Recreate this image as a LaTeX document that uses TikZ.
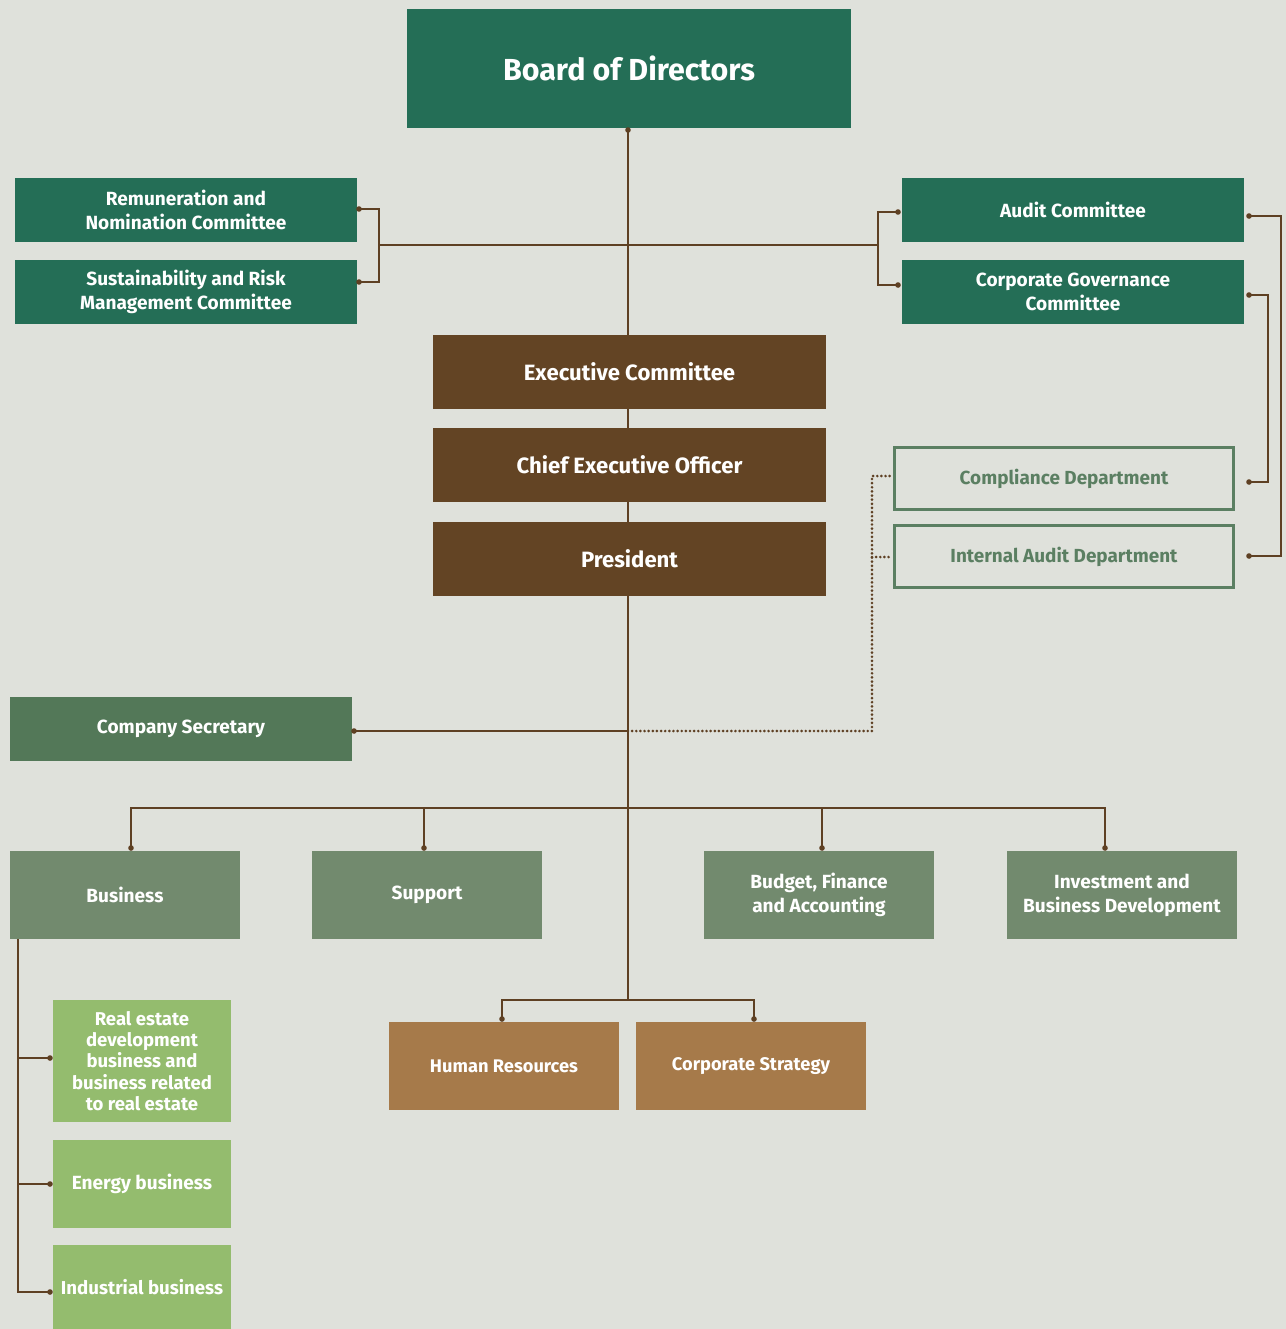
\documentclass[tikz,border=0pt]{standalone}
\usepackage{fontspec}
\setmainfont{Fira Sans}
\usetikzlibrary{backgrounds}
\definecolor{bg}{HTML}{DFE1DB}
\definecolor{dkgreen}{HTML}{246E56}
\definecolor{brown}{HTML}{634424}
\definecolor{secgreen}{HTML}{537858}
\definecolor{midgreen}{HTML}{728A6E}
\definecolor{ltgreen}{HTML}{94BC6E}
\definecolor{tan}{HTML}{A67A4A}
\definecolor{outgreen}{HTML}{5B7F62}
\definecolor{linec}{HTML}{5E4023}
\begin{document}
\begin{tikzpicture}[x=0.75pt,y=-0.75pt,
  box/.style={draw=none, inner sep=0pt, align=center, text=white,
    font=\bfseries\fontsize{14.3}{18}\selectfont},
  wh/.style 2 args={minimum width=#1*0.75pt, minimum height=#2*0.75pt},
  outbox/.style={draw=outgreen, line width=2.25pt, fill=bg, inner sep=0pt, align=center,
    text=outgreen, font=\bfseries\fontsize{14.2}{18}\selectfont},
  bigtext/.style={font=\bfseries\fontsize{16.6}{20}\selectfont},
  conn/.style={draw=linec, line width=1.4pt},
  dotted conn/.style={draw=linec, line width=2.2pt, line cap=round, dash pattern=on 0pt off 3.1pt},
  enddot/.style={fill=linec}
]
\useasboundingbox (0,0) rectangle (1286,1329);

% top
\node[box, fill=dkgreen, wh={444}{119}, font=\bfseries\fontsize{22.8}{26}\selectfont] (board) at (629,68.5) {Board of Directors};

% committees
\node[box, fill=dkgreen, wh={342}{64}] (rem) at (186,210) {Remuneration and\\Nomination Committee};
\node[box, fill=dkgreen, wh={342}{64}] (sus) at (186,292) {Sustainability and Risk\\Management Committee};
\node[box, fill=dkgreen, wh={342}{64}] (aud) at (1073,210) {Audit Committee};
\node[box, fill=dkgreen, wh={342}{64}] (cgc) at (1073,292) {Corporate Governance\\Committee};

% executive chain
\node[box, fill=brown, wh={393}{74}, bigtext] (exec) at (629.5,372) {Executive Committee};
\node[box, fill=brown, wh={393}{74}, bigtext] (ceo) at (629.5,465) {Chief Executive Officer};
\node[box, fill=brown, wh={393}{74}, bigtext] (pres) at (629.5,559) {President};

% departments
\node[outbox, wh={339}{62}] (comp) at (1064,478.5) {Compliance Department};
\node[outbox, wh={339}{62}] (iad) at (1064,556.5) {Internal Audit Department};

% secretary
\node[box, fill=secgreen, wh={342}{64}] (sec) at (181,729) {Company Secretary};

% divisions
\node[box, fill=midgreen, wh={230}{88}] (bus) at (125,895) {Business};
\node[box, fill=midgreen, wh={230}{88}] (sup) at (427,895) {Support};
\node[box, fill=midgreen, wh={230}{88}] (bfa) at (819,895) {Budget, Finance\\and Accounting};
\node[box, fill=midgreen, wh={230}{88}] (ibd) at (1122,895) {Investment and\\Business Development};

\node[box, fill=tan, wh={230}{88}, font=\bfseries\fontsize{13.7}{17}\selectfont] (hr) at (504,1066) {Human Resources};
\node[box, fill=tan, wh={230}{88}, font=\bfseries\fontsize{13.7}{17}\selectfont] (cst) at (751,1066) {Corporate Strategy};

% business units
\node[box, fill=ltgreen, wh={178}{122}, font=\bfseries\fontsize{13.9}{16}\selectfont] (re) at (142,1061) {Real estate\\development\\business and\\business related\\to real estate};
\node[box, fill=ltgreen, wh={178}{88}] (en) at (142,1184) {Energy business};
\node[box, fill=ltgreen, wh={178}{84}, font=\bfseries\fontsize{14}{18}\selectfont] (ind) at (142,1287) {Industrial business};

% coordinates
\coordinate (bdot) at (628,130);
\coordinate (cA) at (628,245);
\coordinate (cS) at (628,731);
\coordinate (cD) at (628,808);
\coordinate (cH) at (628,1000);
\coordinate (lbr) at (379,245);
\coordinate (rbr) at (878,245);
\coordinate (remdot) at (359,209);
\coordinate (susdot) at (359,282);
\coordinate (auddotl) at (898,212);
\coordinate (cgcdotl) at (898,285);
\coordinate (auddotr) at (1249,216);
\coordinate (cgcdotr) at (1249,295);
\coordinate (compdot) at (1249,482);
\coordinate (iaddot) at (1249,556);
\coordinate (audrail) at (1281,216);
\coordinate (cgcrail) at (1268,295);
\coordinate (dotrail) at (872,731);
\coordinate (compdl) at (890,476);
\coordinate (iaddl) at (890,557);
\coordinate (secdot) at (354,731);
\coordinate (busdot) at (131,848);
\coordinate (supdot) at (424,848);
\coordinate (bfadot) at (822,848);
\coordinate (ibddot) at (1105,848);
\coordinate (hrdot) at (502,1019);
\coordinate (cstdot) at (754,1019);
\coordinate (bustop) at (18,939);
\coordinate (redot) at (50,1058);
\coordinate (endot) at (50,1184);
\coordinate (inddot) at (50,1292);

\begin{scope}[on background layer]
  \fill[bg] (0,0) rectangle (1286,1329);
  \draw[conn] (bdot) -- (cH);
\end{scope}

% committee brackets
\draw[conn] (remdot) -| (lbr) |- (susdot);
\draw[conn] (lbr) -- (rbr);
\draw[conn] (auddotl) -| (rbr) |- (cgcdotl);

% committee to departments
\draw[conn] (auddotr) -- (audrail) |- (iaddot);
\draw[conn] (cgcdotr) -- (cgcrail) |- (compdot);

% dotted link
\draw[dotted conn] (cS) -- (dotrail) |- (compdl);
\draw[dotted conn] (dotrail |- iaddl) -- (iaddl);

% secretary
\draw[conn] (secdot) -- (cS);

% divisions
\draw[conn] (busdot) |- (cD) -| (ibddot);
\draw[conn] (supdot |- cD) -- (supdot);
\draw[conn] (bfadot |- cD) -- (bfadot);

% HR and strategy
\draw[conn] (hrdot) |- (cH) -| (cstdot);

% business units
\draw[conn] (bustop) |- (inddot);
\draw[conn] (bustop |- redot) -- (redot);
\draw[conn] (bustop |- endot) -- (endot);

% dots
\foreach \d in {bdot,remdot,susdot,auddotl,cgcdotl,auddotr,cgcdotr,compdot,iaddot,secdot,busdot,supdot,bfadot,ibddot,hrdot,cstdot,redot,endot,inddot}
  \fill[enddot] (\d) circle (2.1pt);
\end{tikzpicture}
\end{document}
